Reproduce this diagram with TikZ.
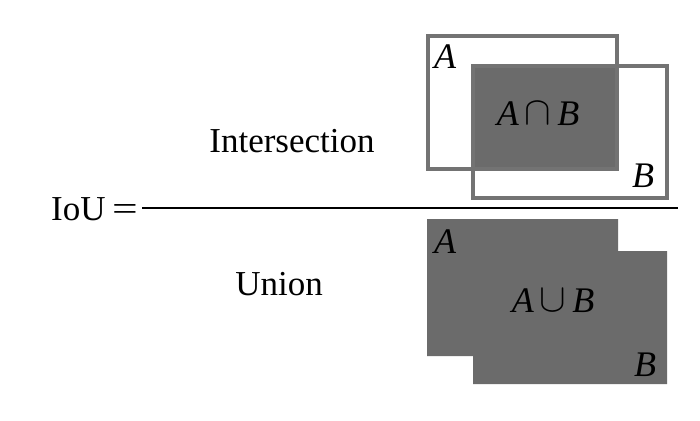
\documentclass[tikz,border=0pt]{standalone}
\usepackage{fontspec}
\setmainfont{Liberation Serif}
\begin{document}
\begin{tikzpicture}[x=1pt,y=-1pt,
  boxline/.style={draw=black!55, line width=3.2pt},
  big/.style={font=\fontsize{35}{40}\selectfont, inner sep=0pt},
  lab/.style={font=\fontsize{36}{40}\selectfont\itshape, inner sep=0pt}]
\useasboundingbox (0,0) rectangle (700,420);
% intersection figure
\fill[black!58] (473,66) rectangle (617,169);
\draw[boxline] (428,36) rectangle (617,169);
\draw[boxline] (473,66) rectangle (667,198);
\node[lab, anchor=base west] (a1) at (434,68) {A};
\node[lab, anchor=base west] (b1) at (632,187) {B};
\node[lab, anchor=base] (ab1) at (538,125) {A\,\raisebox{0.5pt}{\scalebox{1.6}{$\cap$}}\,B};
% union figure
\fill[black!58] (427,219) -- (618,219) -- (618,251) -- (667,251) -- (667,384) -- (473,384) -- (473,356) -- (427,356) -- cycle;
\node[lab, anchor=base west] (a2) at (434,253) {A};
\node[lab, anchor=base west] (b2) at (634,376) {B};
\node[lab, anchor=base] (ab2) at (553,312) {A\,\raisebox{0.5pt}{\scalebox{1.6}{$\cup$}}\,B};
% formula
\node[big, anchor=base west] (iou) at (51,220) {IoU};
\node[big, anchor=base, xscale=1.3] (eq) at (125,220) {=};
\coordinate (l1) at (142,208);
\coordinate (l2) at (678,208);
\draw[line width=1.8pt] (l1) -- (l2);
\node[big, anchor=base] (num) at (292,152) {Intersection};
\node[big, anchor=base] (den) at (279,295) {Union};
\end{tikzpicture}
\end{document}
